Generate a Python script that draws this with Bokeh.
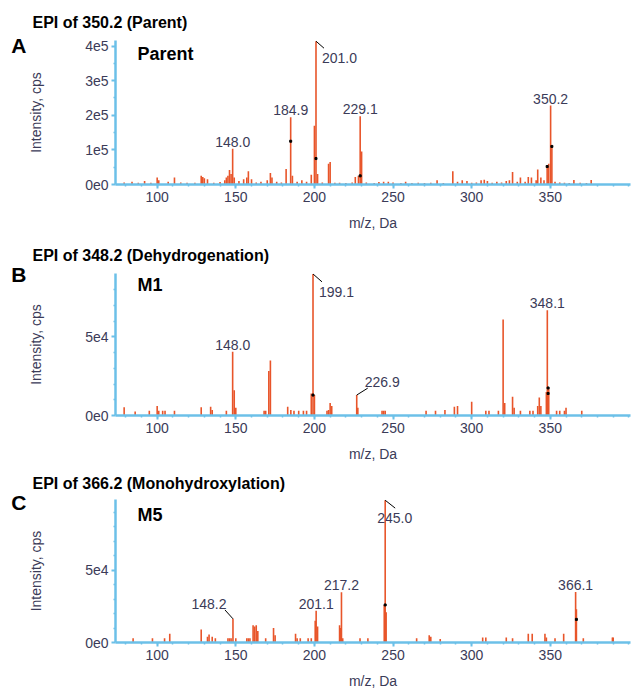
from bokeh.plotting import figure
from bokeh.models import (Range1d, FixedTicker, Label, ColumnDataSource, Title, LinearAxis,
                          CustomJSTickFormatter)
from bokeh.layouts import column
from bokeh.embed import file_html
from bokeh.resources import INLINE
from bokeh.core.properties import value

# ---------------- data ----------------
# Panel A: EPI of 350.2 (Parent)  intensities in cps
mz_A = [79, 84, 88, 92, 96, 100, 101, 107, 111, 115, 119, 124, 128, 129, 130, 132, 136, 140, 143,
        144, 145, 146, 147, 148.0, 149, 152, 155, 157, 158, 160, 163, 166, 170, 172, 173, 176, 179,
        182, 184.9, 186, 189, 192, 195, 198, 200.0, 201.0, 202, 205, 209, 210, 213, 216, 220, 224,
        226, 228, 229.1, 230, 233, 238, 241, 244, 247, 250, 255, 258, 262, 266, 270, 274, 278, 282,
        288, 291, 294, 297, 300, 303, 306, 308, 310, 313, 316, 319, 322, 324, 326, 329, 331, 334,
        336, 338, 341, 342, 344, 346, 348, 349, 350.2, 351, 353, 356, 359, 362, 365, 369, 373, 376]
int_A = [6e3, 8e3, 5e3, 1.0e4, 5e3, 2.0e4, 1.2e4, 8e3, 2.0e4, 6e3, 5e3, 5e3, 2.5e4, 2.2e4, 1.8e4,
         1.5e4, 5e3, 7e3, 1.2e4, 2.0e4, 2.5e4, 4.2e4, 3.0e4, 1.03e5, 2.0e4, 1.0e4, 1.5e4, 2.0e4,
         3.8e4, 1.5e4, 6e3, 8e3, 1.2e4, 3.3e4, 2.0e4, 8e3, 6e3, 4.5e4, 1.94e5, 2.5e4, 8e3, 1.2e4,
         8e3, 2.8e4, 1.7e5, 4.14e5, 3.0e4, 6e3, 6.0e4, 6.5e4, 5e3, 5e3, 4e3, 6e3, 2.2e4, 2.5e4,
         1.97e5, 9.5e4, 6e3, 4e3, 7e3, 8e3, 8e3, 6e3, 4e3, 8e3, 4e3, 5e3, 4e3, 5e3, 1.2e4, 4e3,
         3.8e4, 8e3, 1.2e4, 1.0e4, 5e3, 6e3, 1.2e4, 1.4e4, 1.0e4, 5e3, 8e3, 6e3, 1.0e4, 1.2e4,
         3.6e4, 8e3, 2.0e4, 8e3, 2.2e4, 2.0e4, 1.2e4, 4.3e4, 2.0e4, 1.2e4, 5.2e4, 6.0e4, 2.28e5,
         1.12e5, 8e3, 6e3, 5e3, 4e3, 1.3e4, 5e3, 4e3, 1.3e4]
marks_A_mz = [184.9, 201.0, 229.1, 351, 348]
marks_A_int = [1.25e5, 7.5e4, 2.5e4, 1.1e5, 5.2e4]
labels_A = ["148.0", "184.9", "201.0", "229.1", "350.2"]

# Panel B: EPI of 348.2 (Dehydrogenation)
mz_B = [79, 86, 95, 100, 101, 103.5, 105, 111, 128, 134, 135, 144, 148.0, 149, 150, 168, 169, 171,
        172, 183, 185, 187, 190, 193, 195, 198, 199.1, 200, 208, 209, 210, 211, 226.9, 227.6, 243,
        244, 245, 271, 277, 283, 289, 291, 300, 309, 311, 317, 320, 321, 326, 327, 331, 337, 339,
        342, 343, 344, 347.5, 348.1, 349, 354, 356, 359, 360, 370]
int_B = [5.2e3, 2.5e3, 3e3, 6e3, 3e3, 3e3, 3e3, 3e3, 5.2e3, 5.6e3, 3.5e3, 3e3, 4.06e4, 1.6e4, 5e3,
         3e3, 3e3, 2.83e4, 3.5e4, 5.5e3, 3.5e3, 3e3, 3e3, 3e3, 3e3, 1.4e4, 9.0e4, 1.3e4, 3e3,
         3.5e3, 8e3, 6e3, 1.3e4, 5e3, 3e3, 3e3, 3e3, 3e3, 3e3, 3.5e3, 5.5e3, 6e3, 8.8e3, 3e3, 3e3,
         3e3, 6.1e4, 8e3, 1.2e4, 5e3, 3e3, 3e3, 3e3, 6e3, 1.15e4, 6e3, 1.5e4, 6.7e4, 1.7e4, 3e3,
         3e3, 3e3, 5e3, 3e3]
marks_B_mz = [199.1, 348.6, 348.6]
marks_B_int = [1.3e4, 1.75e4, 1.4e4]
labels_B = ["148.0", "199.1", "226.9", "348.1"]

# Panel C: EPI of 366.2 (Monohydroxylation)
mz_C = [84.7, 97, 104.7, 108, 128, 132, 133, 135, 137, 145, 146, 147, 148.2, 150, 157, 158, 159,
        161, 162, 163, 164, 169, 174, 175, 188, 189, 191, 196, 198, 200.5, 201.1, 202, 216, 216.6,
        217.2, 218, 229, 234, 244.4, 245.0, 245.6, 265, 273, 274, 280, 307, 309, 322, 326, 336,
        338.5, 346.6, 347.5, 353, 358.5, 366.1, 366.6, 371, 389.5, 390]
int_C = [3e3, 3e3, 3e3, 6e3, 9e3, 4e3, 5.5e3, 4e3, 3e3, 3e3, 3e3, 3e3, 1.64e4, 3e3, 3e3, 3e3, 3e3,
         1.2e4, 1.1e4, 1.2e4, 8e3, 3e3, 1.0e4, 5e3, 6e3, 3e3, 3e3, 3e3, 3e3, 1.5e4, 2.2e4, 1.1e4,
         1.2e4, 1.0e4, 3.48e4, 3e3, 3e3, 3e3, 2.6e4, 9.85e4, 2.1e4, 3e3, 5e3, 4e3, 2.5e3, 3.5e3,
         3.5e3, 3.5e3, 3e3, 6e3, 6e3, 6e3, 3.5e3, 3e3, 6e3, 3.5e4, 2.3e4, 3e3, 3.5e3, 3.5e3]
marks_C_mz = [245.0, 366.6]
marks_C_int = [2.6e4, 1.6e4]
labels_C = ["148.2", "201.1", "217.2", "245.0", "366.1"]

titles = ["EPI of 350.2 (Parent)", "EPI of 348.2 (Dehydrogenation)", "EPI of 366.2 (Monohydroxylation)"]
letters = ["A", "B", "C"]
tags = ["Parent", "M1", "M5"]
x_ticks = [100, 150, 200, 250, 300, 350]
y_ticks_A = [0, 100000, 200000, 300000, 400000]
y_tick_labels_A = ["0e0", "1e5", "2e5", "3e5", "4e5"]
y_ticks_B = [0, 50000]
y_tick_labels_B = ["0e0", "5e4"]
y_ticks_C = [0, 50000]
y_tick_labels_C = ["0e0", "5e4"]

# ---------------- style ----------------
PEAK = "#e8552a"
AXIS = "#6cc0e8"
TXT = "#3b3b58"
FONT = "Liberation Sans"
XMIN, XMAX = 73.5, 401.0
FIG_W = 633
B_LEFT, B_RIGHT = 115, 3
FRAME_W = FIG_W - B_LEFT - B_RIGHT


def make_panel(mz, inten, marks_mz, marks_int, peak_labels, special, ymax, yticks, ylabels,
               yminor, title, letter, tag, b_top, frame_h, b_bottom, title_standoff, letter_drop, tag_drop):
    p = figure(width=FIG_W, height=b_top + frame_h + b_bottom,
               x_range=Range1d(XMIN, XMAX), y_range=Range1d(0, ymax),
               output_backend="svg", toolbar_location=None,
               min_border_left=B_LEFT, min_border_right=B_RIGHT,
               min_border_top=b_top, min_border_bottom=b_bottom)
    p.outline_line_color = None
    p.grid.visible = False
    p.background_fill_color = "white"
    p.border_fill_color = "white"

    src = ColumnDataSource(dict(mz=mz, i=inten))
    p.segment(x0="mz", y0=0, x1="mz", y1="i", source=src, line_color=PEAK, line_width=1.6)
    p.scatter(marks_mz, marks_int, marker="square", size=2, color="black")

    px_per_x = FRAME_W / (XMAX - XMIN)
    px_per_y = frame_h / ymax
    lookup = dict(zip(mz, inten))
    for lab in peak_labels:
        xv = float(lab)
        key = min(lookup, key=lambda k: abs(k - xv))
        yv = lookup[key]
        cfg = special.get(lab, dict(align="center", base="bottom", xo=0, yo=-2, lead=None))
        p.text(x=[xv], y=[yv], text=[lab], x_offset=cfg["xo"], y_offset=cfg["yo"],
               text_align=cfg["align"], text_baseline=cfg["base"],
               text_font=value(FONT), text_font_size="14px", text_color=TXT)
        if cfg["lead"] is not None:
            dx, dy = cfg["lead"]
            p.segment(x0=[xv], y0=[yv], x1=[xv + dx / px_per_x], y1=[yv - dy / px_per_y],
                      line_color="black", line_width=1)

    for ax in (p.xaxis[0], p.yaxis[0]):
        ax.axis_line_color = AXIS
        ax.axis_line_width = 2.5
        ax.major_tick_line_color = AXIS
        ax.major_tick_line_width = 2
        ax.major_tick_in = 0
        ax.major_tick_out = 4
        ax.minor_tick_line_color = AXIS
        ax.minor_tick_line_width = 1.5
        ax.minor_tick_in = 0
        ax.minor_tick_out = 2
        ax.major_label_text_font = FONT
        ax.major_label_text_font_size = "14px"
        ax.major_label_text_color = TXT
        ax.axis_label_text_font = FONT
        ax.axis_label_text_font_size = "14px"
        ax.axis_label_text_font_style = "normal"
        ax.axis_label_text_color = TXT
    p.xaxis.ticker = FixedTicker(ticks=x_ticks, minor_ticks=list(range(80, 401, 10)))
    p.xaxis.major_label_standoff = 3
    p.xaxis.axis_label = "m/z, Da"
    p.xaxis.axis_label_standoff = 10
    p.yaxis.ticker = FixedTicker(ticks=yticks, minor_ticks=yminor)
    p.yaxis.major_label_overrides = {t: l for t, l in zip(yticks, ylabels)}
    p.yaxis.major_label_standoff = 3
    p.yaxis.axis_label = "Intensity, cps"
    p.yaxis.axis_label_standoff = 38

    # panel title above the frame
    p.title = Title(text=title, align="left", offset=-83, standoff=title_standoff,
                    vertical_align="bottom", text_font=FONT, text_font_size="16px",
                    text_font_style="bold", text_color="black")

    # panel letter as an outer left axis with a single label near the frame top
    letter_axis = LinearAxis(
        ticker=FixedTicker(ticks=[ymax - letter_drop / px_per_y]),
        formatter=CustomJSTickFormatter(code="return %r;" % letter),
        axis_line_color=None, major_tick_line_color=None, minor_tick_line_color=None,
        major_tick_in=0, major_tick_out=0,
        major_label_standoff=-1, major_label_text_font=FONT, major_label_text_font_size="21px",
        major_label_text_font_style="bold", major_label_text_color="black")
    p.add_layout(letter_axis, "left")

    p.add_layout(Label(x=22, y=frame_h - tag_drop, x_units="screen", y_units="screen",
                       text=tag, text_font=FONT, text_font_size="18px",
                       text_font_style="bold", text_color="black", text_baseline="alphabetic"))
    return p


spec_A = {"201.0": dict(align="left", base="top", xo=6, yo=12, lead=(8, 7))}
spec_B = {"199.1": dict(align="left", base="top", xo=6, yo=13, lead=(9, 8)),
          "226.9": dict(align="left", base="bottom", xo=8, yo=-8, lead=(11, -7))}
spec_C = {"245.0": dict(align="left", base="top", xo=-8, yo=13, lead=(10, 8)),
          "148.2": dict(align="center", base="bottom", xo=-24, yo=-10, lead=(-8, -9))}

pA = make_panel(mz_A, int_A, marks_A_mz, marks_A_int, labels_A, spec_A, 4.16e5,
                y_ticks_A, y_tick_labels_A, [50000, 150000, 250000, 350000],
                titles[0], letters[0], tags[0], 40, 144, 50, 19, 5, 13)
pB = make_panel(mz_B, int_B, marks_B_mz, marks_B_int, labels_B, spec_B, 9.03e4,
                y_ticks_B, y_tick_labels_B, [10000, 20000, 30000, 40000, 60000, 70000, 80000],
                titles[1], letters[1], tags[1], 38, 144, 48, 20, 1, 13)
pC = make_panel(mz_C, int_C, marks_C_mz, marks_C_int, labels_C, spec_C, 9.9e4,
                y_ticks_C, y_tick_labels_C, [10000, 20000, 30000, 40000, 60000, 70000, 80000, 90000],
                titles[2], letters[2], tags[2], 34, 145, 48, 16, 3, 17)

layout = column(pA, pB, pC, spacing=0)
open("out.html", "w").write(file_html(layout, INLINE))
